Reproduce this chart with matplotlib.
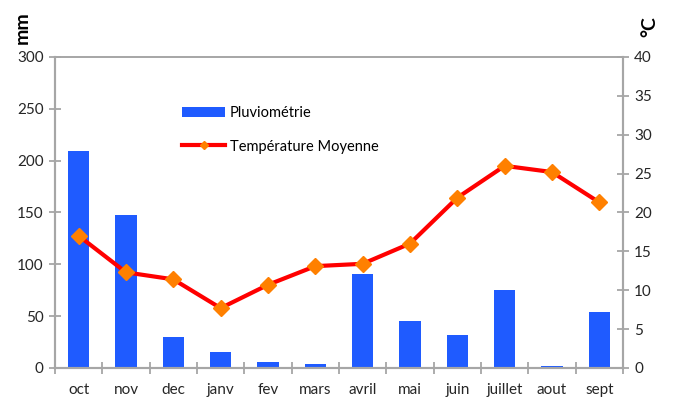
import matplotlib.pyplot as plt
import numpy as np

plt.rcParams['font.family'] = ['Lato', 'DejaVu Sans']

mois = ['oct', 'nov', 'dec', 'janv', 'fev', 'mars', 'avril', 'mai', 'juin', 'juillet', 'aout', 'sept']
pluie = [209, 148, 30, 15, 5.5, 4, 91, 45.5, 32, 75, 1.5, 54]
temp = [17.0, 12.3, 11.4, 7.7, 10.7, 13.1, 13.4, 16.0, 21.9, 26.0, 25.2, 21.3]

fig = plt.figure(figsize=(6.73, 4.01), dpi=100)
ax = fig.add_axes([0.0817, 0.0823, 0.844, 0.7756])
ax2 = ax.twinx()

x = np.arange(len(mois))
ax.bar(x, pluie, width=0.45, color='#1F5BFF', label='Pluviométrie', zorder=2)
ax2.plot(x, temp, color='#FF0000', lw=3, marker='D', ms=8, mfc='#FF8000', mec='#FF8000',
         label='Température Moyenne', zorder=3)

ax.set_xlim(-0.5, 11.5)
ax.set_ylim(0, 300)
ax2.set_ylim(0, 40)
ax.set_yticks(range(0, 301, 50))
ax2.set_yticks(range(0, 41, 5))
ax.set_xticks(x)
ax.set_xticklabels(mois)
ax.set_xticks(np.arange(-0.5, 12, 1), minor=True)

gris = '#A6A6A6'
for a in (ax, ax2):
    for s in a.spines.values():
        s.set_color(gris)
        s.set_linewidth(1.5)
    a.spines['top'].set_linewidth(1.2)
ax.tick_params(axis='x', which='major', length=0, pad=11, labelsize=11, labelcolor='#262626')
ax.tick_params(axis='x', which='minor', direction='inout', length=8, width=1.3, color=gris)
ax.tick_params(axis='y', direction='inout', length=8, width=1.3, color=gris, labelsize=11,
               labelcolor='#262626', pad=4)
ax2.tick_params(axis='y', direction='inout', length=8, width=1.3, color=gris, labelsize=11,
                labelcolor='#262626', pad=4)

fig.text(0.033, 0.93, 'mm', rotation=90, fontsize=14, fontweight='bold', ha='center', va='center')
fig.text(0.966, 0.935, '°C', rotation=90, fontsize=14, fontweight='bold', ha='center', va='center')

h1, l1 = ax.get_legend_handles_labels()
h2, l2 = ax2.get_legend_handles_labels()
ax2.legend(h1 + h2, l1 + l2, loc='upper left', bbox_to_anchor=(0.2, 0.885), frameon=False,
           fontsize=10.5, handlelength=3.0, labelspacing=1.35, handletextpad=0.3, markerscale=0.45)

fig.savefig('out.png', dpi=100)
